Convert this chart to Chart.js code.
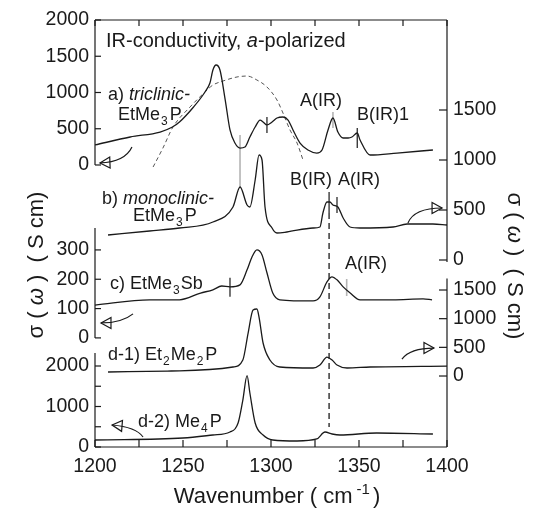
<!DOCTYPE html>
<html>
<head>
<meta charset="utf-8">
<script src="https://cdn.jsdelivr.net/npm/chart.js@4.4.1/dist/chart.umd.min.js"></script>
<style>
  html, body { margin: 0; padding: 0; background: #fff; }
</style>
</head>
<body>
<canvas id="grafico" width="533" height="508"></canvas>
<script>
// DATOS (numero de onda en cm-1, sigma en S/cm)

// a) triclinic-EtMe3P  (eje izquierdo superior)
const ondaA  = [1200,1220,1237,1244,1248,1256,1262.5,1265.3,1267,1268.8,1271,1274,1276.7,1279.5,1282.4,1285.2,1288,1291,1293.8,1295.5,1297.7,1300.6,1303.4,1306.8,1309.7,1312.5,1316.5,1321,1326,1329,1332.4,1335.2,1338,1341,1343.8,1346,1349,1350.6,1356.3,1371.6,1392];
const sigmaA = [276,386,455,524,593,800,1007,1131,1310,1379,1310,896,483,303,234,248,386,524,620,593,552,593,648,662,620,483,303,207,165,207,483,648,455,372,372,386,441,345,138,165,207];

// ajuste (linea de trazos) sobre a)
const ondaAjuste  = [1233,1238.6,1244.3,1254,1262.5,1267,1272.7,1280.7,1286.4,1292,1297.7,1303.4,1306.8,1310.8,1314.8,1318.2];
const sigmaAjuste = [-28,234,524,800,1007,1103,1158,1214,1227,1172,1076,896,717,483,303,69];

// b) monoclinic-EtMe3P  (eje derecho superior)
const ondaB  = [1207.4,1231,1248,1267,1278.4,1282.4,1286.4,1288,1291,1293.2,1294.9,1296.6,1300.6,1303.4,1309,1323.9,1327.8,1329.5,1331.8,1333.5,1335.2,1338,1341,1344.9,1350.6,1369.3,1377.3,1392,1400];
const sigmaB = [250,290,320,380,530,730,550,530,800,1050,1000,530,320,270,280,320,330,470,580,580,550,530,420,330,320,330,360,360,350];

// c) EtMe3Sb  (eje izquierdo medio)
const ondaC  = [1200,1231,1248,1260,1267,1272,1276.7,1282.4,1286.4,1289.2,1292,1294.9,1297.7,1301,1305,1323.9,1327.8,1331.8,1334.7,1337.5,1341,1345,1350.6,1369.3,1386.4,1391.5];
const sigmaC = [112,130,130,153,164,177,174,181,232,276,300,283,222,153,130,126,140,191,208,198,174,153,130,130,133,130];

// d-1) Et2Me2P  (eje derecho inferior)
const ondaD1  = [1207.4,1241,1248,1278.4,1284,1287,1289.8,1292,1293.2,1295.5,1299.4,1305,1323.9,1327.8,1331.8,1334.7,1337.5,1343.2,1356.3,1400];
const sigmaD1 = [70,87,90,157,279,750,1151,1169,1029,576,279,157,140,192,331,279,192,140,157,174];

// d-2) Me4P  (eje izquierdo inferior)
const ondaD2  = [1200,1250,1267,1276.7,1281.3,1284,1286.4,1288,1291,1295.5,1301,1314.8,1326,1330.7,1334.7,1339.2,1360,1392];
const sigmaD2 = [173,222,296,370,593,1160,1760,1333,593,296,173,148,198,370,321,296,346,321];

// marcas verticales de los modos
const marcaOnda  = [1282.4,1297.7,1335.2,1349,1333,1337.5,1276.7,1343];
const marcaEje   = ['y1','y1','y1','y1','y2','y2','y3','y3'];
const marcaDesde = [414,662,731,510,680,630,205,201];
const marcaHasta = [-303,441,510,234,470,470,140,143];
const marcaGris  = [true,false,true,false,false,false,false,true];

// linea vertical de trazos (A(IR))
const lineaOnda = 1333;
const lineaDesde = 470;
const lineaHasta = -1670;

// ticks
const ticksX = [1200,1250,1300,1350,1400];
const ticksXMenores = [1225,1275,1325,1375];
const ticksIzqA = [0,500,1000,1500,2000];
const ticksIzqC = [0,100,200,300];
const ticksIzqD = [0,1000,2000];
const ticksIzqDMenores = [500,1500];
const ticksDerB = [0,500,1000,1500];
const ticksDerD = [0,500,1000,1500];

// flechas que indican el eje de cada espectro
const flechas = [
  { eje: 'y1', cola: [1221, 248], ctrl: [1217, 41], punta: [1202.8, 28] },
  { eje: 'y2', cola: [1377.8, 370], ctrl: [1381.3, 520], punta: [1397.2, 520] },
  { eje: 'y3', cola: [1221.6, 82], ctrl: [1215.3, 51], punta: [1203.4, 51] },
  { eje: 'y4', cola: [1374.4, 296], ctrl: [1379, 488], punta: [1392.6, 488] },
  { eje: 'y5', cola: [1227.3, 247], ctrl: [1223.3, 494], punta: [1209.7, 543] }
];

const FUENTE = '"Liberation Sans", Arial, Helvetica, sans-serif';
const NEGRO = '#1a1a1a';
const GRIS = '#b4b4b4';

function serie(ondas, valores, eje, extra) {
  return Object.assign({
    data: ondas.map((o, i) => ({ x: o, y: valores[i] })),
    yAxisID: eje,
    borderColor: NEGRO,
    borderWidth: 1.3,
    pointRadius: 0,
    fill: false,
    cubicInterpolationMode: 'monotone'
  }, extra || {});
}

// TEXTO CON PARTES (normal, italica, subindice, superindice)
function fuenteDe(tipo, tam) {
  if (tipo === 'i') return 'italic ' + tam + 'px ' + FUENTE;
  if (tipo === 'sub' || tipo === 'sup') return Math.round(tam * 0.68) + 'px ' + FUENTE;
  return tam + 'px ' + FUENTE;
}

function anchoTexto(ctx, partes, tam) {
  let w = 0;
  partes.forEach(p => {
    ctx.font = fuenteDe(p[1], tam);
    w += ctx.measureText(p[0]).width + (p[2] || 0);
  });
  return w;
}

function escribir(ctx, x, y, partes, tam, centrado) {
  let cx = centrado ? x - anchoTexto(ctx, partes, tam) / 2 : x;
  partes.forEach(p => {
    ctx.font = fuenteDe(p[1], tam);
    let dy = 0;
    if (p[1] === 'sub') dy = tam * 0.25;
    if (p[1] === 'sup') dy = -tam * 0.42;
    ctx.fillText(p[0], cx, y + dy);
    cx += ctx.measureText(p[0]).width + (p[2] || 0);
  });
}

function flecha(ctx, cola, ctrl, punta) {
  ctx.beginPath();
  ctx.moveTo(cola[0], cola[1]);
  ctx.quadraticCurveTo(ctrl[0], ctrl[1], punta[0], punta[1]);
  ctx.stroke();
  const ang = Math.atan2(punta[1] - ctrl[1], punta[0] - ctrl[0]);
  const largo = 10, ancho = 5.5;
  const bx = punta[0] - largo * Math.cos(ang);
  const by = punta[1] - largo * Math.sin(ang);
  ctx.beginPath();
  ctx.moveTo(punta[0], punta[1]);
  ctx.lineTo(bx - ancho * Math.sin(ang), by + ancho * Math.cos(ang));
  ctx.lineTo(bx + ancho * Math.sin(ang), by - ancho * Math.cos(ang));
  ctx.closePath();
  ctx.stroke();
}

// MARCO, EJES Y ANOTACIONES
const marco = {
  id: 'marco',
  afterDraw(chart) {
    const { ctx, chartArea: a, scales: s } = chart;
    const X = v => s.x.getPixelForValue(v);
    const Y = (eje, v) => s[eje].getPixelForValue(v);
    const linea = (x1, y1, x2, y2) => {
      ctx.beginPath(); ctx.moveTo(x1, y1); ctx.lineTo(x2, y2); ctx.stroke();
    };

    ctx.save();
    ctx.strokeStyle = NEGRO;
    ctx.fillStyle = NEGRO;
    ctx.lineWidth = 1.2;

    // borde superior e inferior
    linea(a.left, a.top, a.right, a.top);
    linea(a.left, a.bottom, a.right, a.bottom);
    ticksX.concat(ticksXMenores).forEach(v => {
      linea(X(v), a.top, X(v), a.top + 6);
      linea(X(v), a.bottom, X(v), a.bottom - 7);
    });

    // bordes derechos (dos tramos)
    linea(a.right, a.top, a.right, Y('y2', -20));
    linea(a.right, Y('y4', 1700), a.right, a.bottom);

    // bordes izquierdos (tres tramos)
    linea(a.left, a.top, a.left, Y('y1', 0));
    linea(a.left, Y('y3', 375), a.left, Y('y3', 0));
    linea(a.left, Y('y5', 2320), a.left, a.bottom);

    ctx.font = '19.5px ' + FUENTE;
    ctx.textBaseline = 'middle';

    // ticks izquierdos
    ctx.textAlign = 'right';
    const izq = (eje, ticks, menores) => {
      ticks.forEach(v => {
        linea(a.left, Y(eje, v), a.left + 6, Y(eje, v));
        ctx.fillText(String(v), a.left - 6, Y(eje, v));
      });
      (menores || []).forEach(v => linea(a.left, Y(eje, v), a.left + 6, Y(eje, v)));
    };
    izq('y1', ticksIzqA);
    izq('y3', ticksIzqC);
    izq('y5', ticksIzqD, ticksIzqDMenores);

    // ticks derechos
    ctx.textAlign = 'left';
    const der = (eje, ticks) => {
      ticks.forEach(v => {
        linea(a.right - 8, Y(eje, v), a.right, Y(eje, v));
        ctx.fillText(String(v), a.right + 6, Y(eje, v));
      });
    };
    der('y2', ticksDerB);
    der('y4', ticksDerD);

    // etiquetas eje x
    ctx.textAlign = 'center';
    ticksX.forEach(v => ctx.fillText(String(v), X(v), a.bottom + 20));

    // titulos de ejes
    ctx.textAlign = 'left';
    ctx.textBaseline = 'alphabetic';
    escribir(ctx, 277, 503, [['Wavenumber ( cm', 'n', 4], ['-1', 'sup', 3], [')', 'n']], 22, true);

    const tituloY = [['σ ( ', 'n'], ['ω', 'i'], [' )  ( S cm)', 'n']];
    ctx.textBaseline = 'middle';
    ctx.save();
    ctx.translate(37, 265);
    ctx.rotate(-Math.PI / 2);
    escribir(ctx, 0, 0, tituloY, 22, true);
    ctx.restore();
    ctx.save();
    ctx.translate(514, 266);
    ctx.rotate(Math.PI / 2);
    escribir(ctx, 0, 0, tituloY, 22, true);
    ctx.restore();

    // textos dentro del grafico
    ctx.textBaseline = 'alphabetic';
    escribir(ctx, 106, 47, [['IR-conductivity, ', 'n'], ['a', 'i'], ['-polarized', 'n']], 20);
    escribir(ctx, 108, 100, [['a) ', 'n'], ['triclinic-', 'i']], 18);
    escribir(ctx, 118, 120, [['EtMe', 'n', 1], ['3', 'sub', 2], ['P', 'n']], 18);
    escribir(ctx, 300, 106, [['A(IR)', 'n']], 18);
    escribir(ctx, 357, 120, [['B(IR)1', 'n']], 18);
    escribir(ctx, 102, 204, [['b) ', 'n'], ['monoclinic-', 'i']], 18);
    escribir(ctx, 133, 221, [['EtMe', 'n', 1], ['3', 'sub', 2], ['P', 'n']], 18);
    escribir(ctx, 290, 185, [['B(IR)', 'n']], 18);
    escribir(ctx, 338, 185, [['A(IR)', 'n']], 18);
    escribir(ctx, 110, 289, [['c) EtMe', 'n', 1], ['3', 'sub', 1], ['Sb', 'n']], 18);
    escribir(ctx, 345, 269, [['A(IR)', 'n']], 18);
    escribir(ctx, 108, 360, [['d-1) Et', 'n', 1], ['2', 'sub', 1], ['Me', 'n', 1], ['2', 'sub', 2], ['P', 'n']], 18);
    escribir(ctx, 138, 427, [['d-2) Me', 'n', 1], ['4', 'sub', 2], ['P', 'n']], 18);

    // flechas
    ctx.lineWidth = 1.2;
    flechas.forEach(f => {
      flecha(ctx,
        [X(f.cola[0]), Y(f.eje, f.cola[1])],
        [X(f.ctrl[0]), Y(f.eje, f.ctrl[1])],
        [X(f.punta[0]), Y(f.eje, f.punta[1])]);
    });

    ctx.restore();
  }
};

// DATASETS
const datasets = [
  serie(ondaA, sigmaA, 'y1'),
  serie(ondaAjuste, sigmaAjuste, 'y1', { borderColor: '#555', borderWidth: 1, borderDash: [4, 3] }),
  serie(ondaB, sigmaB, 'y2'),
  serie(ondaC, sigmaC, 'y3'),
  serie(ondaD1, sigmaD1, 'y4'),
  serie(ondaD2, sigmaD2, 'y5')
];

marcaOnda.forEach((o, i) => {
  datasets.push(serie([o, o], [marcaDesde[i], marcaHasta[i]], marcaEje[i], {
    borderColor: marcaGris[i] ? GRIS : NEGRO,
    borderWidth: marcaGris[i] ? 1.6 : 1.2,
    cubicInterpolationMode: 'default',
    tension: 0
  }));
});

datasets.push(serie([lineaOnda, lineaOnda], [lineaDesde, lineaHasta], 'y2', {
  borderWidth: 1.3,
  borderDash: [6, 4],
  cubicInterpolationMode: 'default',
  tension: 0
}));

// GRAFICO
const grafico = new Chart(document.getElementById('grafico'), {
  type: 'line',
  data: { datasets: datasets },
  options: {
    responsive: false,
    animation: false,
    devicePixelRatio: 1,
    layout: { padding: { left: 95, right: 86, top: 20, bottom: 61 } },
    plugins: {
      legend: { display: false },
      tooltip: { enabled: false }
    },
    scales: {
      x:  { type: 'linear', min: 1200, max: 1400, display: false },
      y1: { min: -3890, max: 2000, display: false },
      y2: { min: -1870, max: 2400, display: false },
      y3: { min: -372, max: 1084, display: false },
      y4: { min: -1238, max: 6209, display: false },
      y5: { min: 0, max: 10543, display: false }
    }
  },
  plugins: [marco]
});
</script>
</body>
</html>
